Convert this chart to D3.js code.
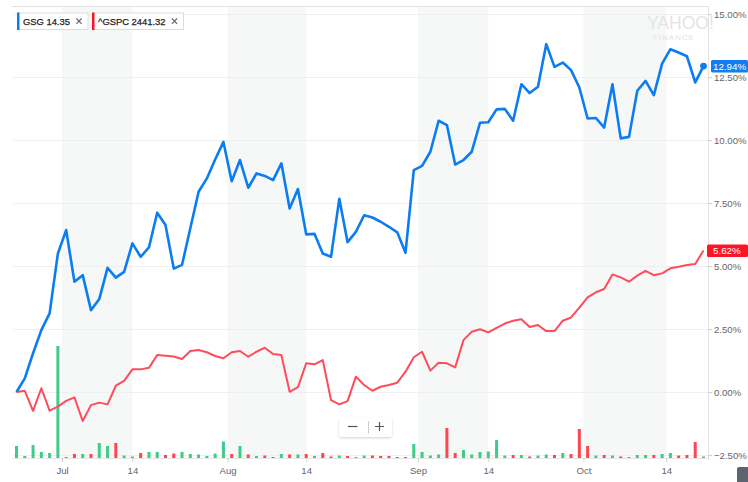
<!DOCTYPE html>
<html><head><meta charset="utf-8">
<script src="https://cdn.jsdelivr.net/npm/d3@7/dist/d3.min.js"></script>
<style>
html,body{margin:0;padding:0;background:#fff;}
svg{display:block;font-family:"Liberation Sans",Arial,Helvetica,sans-serif;}
</style></head>
<body><svg id="c" width="748" height="482"></svg>
<script>
// GSG % change vs start (trading days Jun 23 – Oct 20)
const gsg = [0,0.54,1.54,2.46,3.12,5.50,6.43,4.38,4.64,3.25,
3.69,4.93,4.54,4.77,5.90,5.37,5.74,7.12,6.63,4.90,
5.05,6.50,7.95,8.48,9.23,9.93,8.37,9.21,8.11,8.68,
8.58,8.41,9.08,7.29,8.06,6.26,6.28,5.50,5.37,7.67,
5.95,6.36,7.02,6.93,6.76,6.56,6.34,5.53,8.81,8.98,
9.54,10.77,10.60,9.03,9.21,9.54,10.69,10.71,11.22,11.24,
10.77,12.22,11.87,12.12,13.81,12.91,13.08,12.78,12.09,10.86,
10.88,10.50,12.22,10.07,10.13,11.96,12.35,11.79,13.04,13.61,
13.48,13.33,12.29,12.94];
// ^GSPC % change vs start
const spx = [0,0.05,-0.75,0.15,-0.74,-0.58,-0.35,-0.21,-1.15,-0.52,
-0.42,-0.49,0.25,0.44,0.90,0.90,0.96,1.47,1.44,1.41,
1.31,1.63,1.67,1.58,1.43,1.34,1.58,1.63,1.40,1.60,
1.76,1.51,1.47,0.01,0.19,1.14,1.10,1.27,-0.32,-0.49,
-0.36,0.61,0.28,0.05,0.21,0.28,0.37,0.81,1.38,1.60,
0.85,1.16,1.14,0.98,2.06,2.39,2.49,2.37,2.55,2.72,
2.83,2.89,2.58,2.66,2.42,2.42,2.83,2.96,3.35,3.76,
3.96,4.09,4.67,4.55,4.38,4.62,4.81,4.64,4.71,4.91,
4.97,5.04,5.08,5.62];
// GSG volume (thousands)
const volume = [300,50,325,150,125,2800,25,100,100,100,
375,300,375,62,38,125,150,150,75,112,
150,100,88,50,112,412,100,300,88,50,
62,25,100,88,88,100,50,125,38,62,
50,25,62,62,50,50,25,25,350,150,
62,88,750,125,200,88,150,162,450,62,
75,75,38,62,88,75,125,100,725,300,
62,75,62,38,25,75,75,75,100,125,
62,75,400,38];
const xTickLabels = ["Jul","14","Aug","14","Sep","14","Oct","14"];
const xTickPos = [5.5,14,25.5,35,48.5,57,68.5,78.5];
const yTicks = [-2.5,0,2.5,5,7.5,10,12.5,15];
const legendNames = ["GSG","^GSPC"];
const legendValues = ["14.35","2441.32"];

const BLUE="#0c7cf2", RED="#ff4b5a", GREEN="#3fcb88", VRED="#ff4650";
const svg = d3.select("#c");
const L=13, R=708, T=7, B=458;
const x = d3.scaleLinear().domain([0, gsg.length-1]).range([16.5, 703.5]);
const y = d3.scaleLinear().domain([-2.5, 15]).range([455, 14.2]);
const yv = d3.scaleLinear().domain([0, 2800]).range([0, 112]);

const defs = svg.append("defs");
defs.append("clipPath").attr("id","clip").append("rect").attr("x",L).attr("y",T).attr("width",R-L).attr("height",B-T+2);
const f = defs.append("filter").attr("id","sh").attr("x","-20%").attr("y","-40%").attr("width","140%").attr("height","180%");
f.append("feDropShadow").attr("dx",0).attr("dy",1).attr("stdDeviation",1.2).attr("flood-color","#000").attr("flood-opacity",0.18);

// shaded bands (1st–14th of each month)
const bands = d3.range(0, xTickPos.length, 2).map(i => [xTickPos[i], xTickPos[i+1]]);
svg.append("g").selectAll("rect").data(bands).join("rect")
  .attr("x", d=>x(d[0])).attr("width", d=>x(d[1])-x(d[0]))
  .attr("y", T).attr("height", B-T).attr("fill","#f6f8f8");

// Yahoo logo watermark
svg.append("text").attr("x",647).attr("y",29.3).attr("font-size",17.5).attr("fill","#e4e4e4")
  .attr("letter-spacing",0).text("YAHOO!");
svg.append("text").attr("x",653).attr("y",40).attr("font-size",7.8).attr("fill","#e4e4e4")
  .attr("letter-spacing",1.1).text("FINANCE");

// gridlines
svg.append("g").selectAll("line").data(yTicks).join("line")
  .attr("x1",L).attr("x2",R).attr("y1",d=>Math.round(y(d))+0.5).attr("y2",d=>Math.round(y(d))+0.5)
  .attr("stroke","#efefef").attr("stroke-width",1);

// frame
svg.append("line").attr("x1",12).attr("x2",R).attr("y1",T-0.5).attr("y2",T-0.5).attr("stroke","#e2e2e2");
svg.append("line").attr("x1",R+0.5).attr("x2",R+0.5).attr("y1",T-1).attr("y2",B+2).attr("stroke","#e2e2e2");
svg.append("line").attr("x1",L).attr("x2",R).attr("y1",B+0.5).attr("y2",B+0.5).attr("stroke","#e6e6e6");

// volume bars
svg.append("g").selectAll("rect").data(volume).join("rect")
  .attr("x",(d,i)=>x(i)-1.5).attr("width",3)
  .attr("y",d=>B - yv(d)).attr("height",d=>yv(d))
  .attr("fill",(d,i)=> (i===0 || gsg[i] >= gsg[i-1]) ? GREEN : VRED);

// lines
const line = d3.line().x((d,i)=>x(i)).y(d=>y(d));
const g = svg.append("g").attr("clip-path","url(#clip)");
g.append("path").datum(spx).attr("d",line).attr("fill","none").attr("stroke",RED)
  .attr("stroke-width",2).attr("stroke-linejoin","round");
g.append("path").datum(gsg).attr("d",line).attr("fill","none").attr("stroke",BLUE)
  .attr("stroke-width",2.6).attr("stroke-linejoin","round");

// right axis
const yAxis = d3.axisRight(y).tickValues(yTicks).tickSize(4).tickPadding(2)
  .tickFormat(d=>d3.format(".2f")(d)+"%");
const ya = svg.append("g").attr("transform",`translate(${R},0)`).call(yAxis);
ya.select(".domain").remove();
ya.selectAll("line").attr("stroke","#cfcfcf");
ya.selectAll("text").attr("fill","#666").attr("font-size",9.6).attr("font-family","Liberation Sans, Arial, sans-serif");

// bottom axis
const xAxis = d3.axisBottom(x).tickValues(xTickPos).tickSize(4).tickPadding(5)
  .tickFormat((d,i)=>xTickLabels[i]);
const xa = svg.append("g").attr("transform",`translate(0,${B})`).call(xAxis);
xa.select(".domain").remove();
xa.selectAll("line").attr("stroke","#cfcfcf");
xa.selectAll("text").attr("fill","#666").attr("font-size",9.6).attr("font-family","Liberation Sans, Arial, sans-serif");

// last value badges
const last = gsg.length-1;
svg.append("circle").attr("cx",x(last)).attr("cy",y(gsg[last])).attr("r",3.4).attr("fill",BLUE);
function badge(val, color, x0){
  const cy = y(val);
  svg.append("rect").attr("x",x0).attr("y",cy-6).attr("width",748-x0).attr("height",12.5)
    .attr("rx",1.5).attr("fill",color);
  svg.append("text").attr("x",713).attr("y",cy+3.6).attr("font-size",9.8).attr("fill","#fff")
    .text(d3.format(".2f")(val)+"%");
}
badge(spx[last], "#ff1426", 707);
badge(gsg[last], "#137ef0", 711);

// legend
const legColors=[BLUE,"#ff1426"];
const legX=[17,92], legW=[70.5,91];
legendNames.forEach((n,i)=>{
  const lg = svg.append("g").attr("transform",`translate(${legX[i]},12.5)`);
  lg.append("rect").attr("x",0.5).attr("y",0.5).attr("width",legW[i]).attr("height",16.5)
    .attr("fill","#fff").attr("stroke","#dcdcdc");
  lg.append("rect").attr("x",0).attr("y",0).attr("width",2.5).attr("height",17.5).attr("fill",legColors[i]);
  lg.append("text").attr("x",6).attr("y",12.2).attr("font-size",9.4).attr("fill","#222")
    .attr("stroke","#222").attr("stroke-width",0.25).text(n+" "+legendValues[i]);
  const cx = legW[i]-8.5;
  lg.append("path").attr("d",`M${cx-2.6},${6}L${cx+2.6},${11.4}M${cx+2.6},${6}L${cx-2.6},${11.4}`)
    .attr("stroke","#666").attr("stroke-width",1.1);
});

// zoom control
const zc = svg.append("g").attr("transform","translate(339,418)");
zc.append("rect").attr("width",53).attr("height",19).attr("rx",3).attr("fill","#fff").attr("filter","url(#sh)");
zc.append("path").attr("d","M9,8.5H18.5").attr("stroke","#555").attr("stroke-width",1.2);
zc.append("path").attr("d","M29.5,3V15.5").attr("stroke","#cfcfcf").attr("stroke-width",1);
zc.append("path").attr("d","M36,8.5H45M40.5,4V13").attr("stroke","#555").attr("stroke-width",1.2);

// bottom-right corner element
svg.append("rect").attr("x",737).attr("y",467).attr("width",14).attr("height",18).attr("rx",2).attr("fill","#5b6470");
</script></body></html>
